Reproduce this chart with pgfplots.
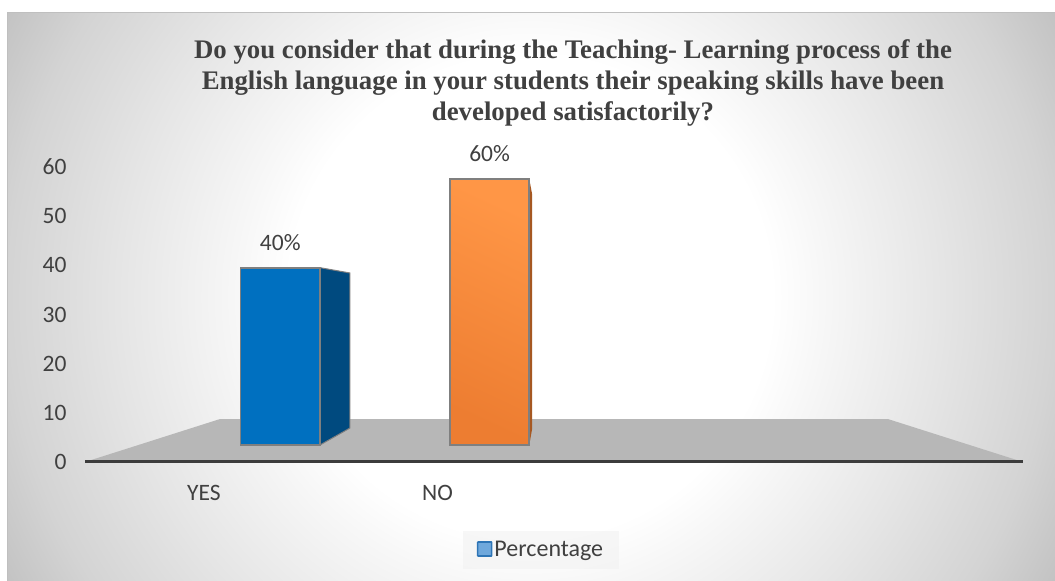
\documentclass[border=0pt]{standalone}
\usepackage{fontspec}
\setmainfont{Carlito}
\newfontfamily\titlefont{Liberation Serif}
\usepackage{pgfplots}
\pgfplotsset{compat=1.18}
\definecolor{txt}{HTML}{404040}
\definecolor{floorgray}{HTML}{B7B7B7}
\definecolor{baseline}{HTML}{3C3C3C}
\definecolor{edge}{HTML}{7F7F7F}
\definecolor{bluefront}{HTML}{0070C0}
\definecolor{blueside}{HTML}{004A7F}
\definecolor{orangelow}{HTML}{ED7D31}
\definecolor{orangehigh}{HTML}{FF9646}
\definecolor{keyfill}{HTML}{6FA8DC}
\definecolor{keyedge}{HTML}{2E75B6}
% 25bp of the shading is 525 px on the picture
\pgfdeclareradialshading{panelglow}{\pgfpoint{0bp}{0bp}}{%
  color(0bp)=(white);
  color(11.5bp)=(white);
  color(13.8bp)=(black!3);
  color(19.5bp)=(black!10);
  color(24.9bp)=(black!17);
  color(28.6bp)=(black!24);
  color(50bp)=(black!24)}
\begin{document}
\begin{tikzpicture}[x=1pt,y=1pt]
\path[use as bounding box,fill=white] (0,0) rectangle (1055,581);
% panel background
\begin{scope}
\clip (7,0) rectangle (1055,568);
\shade[shading=panelglow] (5,-241) rectangle (1055,809);
\end{scope}
\draw[black!25,line width=1pt] (7,0) -- (7,568) -- (1055,568);

% value axis, floor and baseline -----------------
\begin{axis}[
    at={(85pt,119pt)},
    anchor=south west,
    scale only axis,
    width=938pt,
    height=295pt,
    xmin=-0.5096, xmax=3.5075,
    ymin=0, ymax=60,
    clip=false,
    axis on top,
    axis x line=bottom,
    axis y line=left,
    x axis line style={draw=baseline,line width=3pt,-},
    y axis line style={draw=none},
    major tick length=0pt,
    xtick={0,1},
    xticklabels={YES,NO},
    ytick={0,10,...,60},
    tick label style={text=txt,font=\fontsize{23.5}{28}\selectfont},
    /pgf/number format/assume math mode=true,
    yticklabel style={xshift=-15pt},
    xticklabel style={yshift=-20pt},
]
\addplot[draw=none,fill=floorgray] coordinates {
    (-0.5096,0) (0.0685,8.74) (2.929,8.74) (3.5075,0) (-0.5096,0)};
\end{axis}

% bars -------------------------------------------
\begin{axis}[
    at={(85pt,136pt)},
    anchor=south west,
    scale only axis,
    width=938pt,
    height=266pt,
    xmin=-0.9331, xmax=3.5485,
    ymin=0, ymax=60,
    clip=false,
    hide axis,
    ybar=0pt,
    bar width=79.5pt,
    bar shift=0pt,
    /pgf/number format/assume math mode=true,
    nodes near coords={\pgfmathprintnumber{\pgfplotspointmeta}\%},
    nodes near coords style={text=txt,font=\fontsize{23.5}{28}\selectfont,yshift=13pt},
    legend style={
        at={(456pt,-105pt)},
        anchor=center,
        draw=none,
        fill=black!5,
        fill opacity=0.6,
        text opacity=1,
        font=\fontsize{24}{28}\selectfont,
        text=txt,
        inner xsep=14pt,
        inner ysep=9pt,
    },
    legend cell align=left,
]
% side faces of the bars
\addplot[forget plot,sharp plot,nodes near coords={},draw=edge,line width=1pt,fill=blueside] coordinates {
    (0.1896,0) (0.3329,3.83) (0.3329,38.8) (0.1896,40) (0.1896,0)};
\addplot[forget plot,sharp plot,nodes near coords={},draw=none,fill=orangelow!70!black] coordinates {
    (1.1896,0) (1.2030,3.6) (1.2030,56.6) (1.1896,60) (1.1896,0)};
% front faces
\addplot[forget plot,draw=edge,line width=1.8pt,fill=bluefront] coordinates {(0,40)};
\addplot[forget plot,draw=edge,line width=1.8pt,
    shade,bottom color=orangelow,top color=orangehigh,shading angle=-25] coordinates {(1,60)};
\addlegendimage{legend image code/.code={
    \draw[draw=keyedge,line width=1.6pt,fill=keyfill,fill opacity=1,rounded corners=0.5pt]
        (9pt,-6pt) rectangle (23pt,8pt);}}
\addlegendentry{Percentage}
\end{axis}

% title
\node[align=center,text=txt,font=\titlefont\bfseries\fontsize{26.8}{31}\selectfont] at (573,498)
    {Do you consider that during the Teaching- Learning process of the\\
     English language in your students their speaking skills have been\\
     developed satisfactorily?};
\end{tikzpicture}
\end{document}
